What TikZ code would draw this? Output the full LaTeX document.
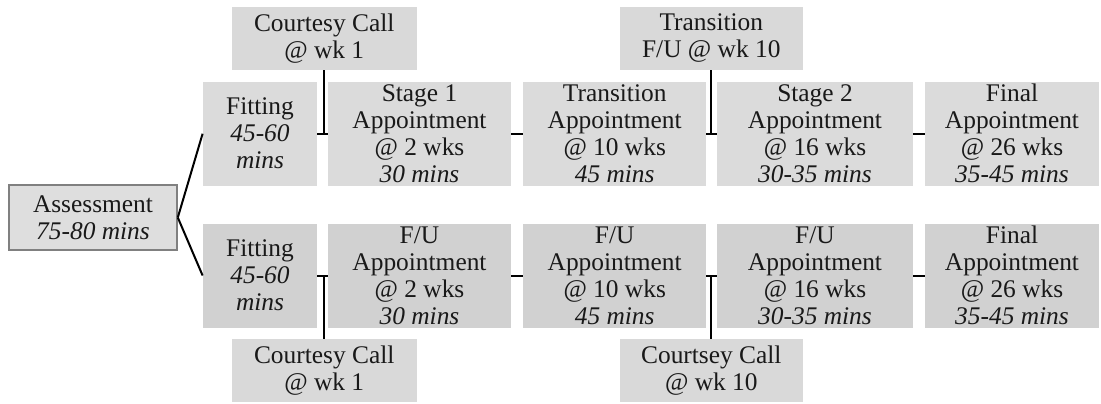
\documentclass[tikz,border=0pt]{standalone}
\usepackage{fontspec}
\setmainfont{Liberation Serif}
\usepackage{tikz}

\begin{document}
\begin{tikzpicture}[x=0.5pt,y=-0.5pt,
  box/.style={inner sep=0pt, align=center, text=black!90,
    font=\fontsize{12.7}{13.5}\selectfont},
  upper/.style={box, fill=black!14, minimum height=52pt},
  lower/.style={box, fill=black!18, minimum height=52pt},
  call/.style={box, fill=black!15, minimum height=31.6pt},
  link/.style={line width=1pt}]
\useasboundingbox (0,0) rectangle (1101,403);

\node[box, fill=black!13, draw=black!50, line width=0.8pt,
  minimum width=84pt, minimum height=32.5pt]
  (Assess) at (93,217.5) {Assessment\\\textit{75-80 mins}};

% top row
\node[upper, minimum width=57pt] (FitA) at (260,133.7)
  {Fitting\\\textit{45-60}\\\textit{mins}};
\node[upper, minimum width=91.5pt] (StageOne) at (419.5,133.7)
  {Stage 1\\Appointment\\@ 2 wks\\\textit{30 mins}};
\node[upper, minimum width=91.3pt] (TransAppt) at (614.7,133.7)
  {Transition\\Appointment\\@ 10 wks\\\textit{45 mins}};
\node[upper, minimum width=98pt] (StageTwo) at (815,133.7)
  {Stage 2\\Appointment\\@ 16 wks\\\textit{30-35 mins}};
\node[upper, minimum width=87pt] (FinalA) at (1012,133.7)
  {Final\\Appointment\\@ 26 wks\\\textit{35-45 mins}};
\node[call, minimum width=92.5pt] (CallA) at (324.2,38.4)
  {Courtesy Call\\@ wk 1};
\node[call, minimum width=91.3pt] (TransFU) at (711.3,38.4)
  {Transition\\F/U @ wk 10};

% bottom row
\node[lower, minimum width=57pt] (FitB) at (260,275.5)
  {Fitting\\\textit{45-60}\\\textit{mins}};
\node[lower, minimum width=91.5pt] (FUtwo) at (419.5,275.5)
  {F/U\\Appointment\\@ 2 wks\\\textit{30 mins}};
\node[lower, minimum width=91.3pt] (FUten) at (614.7,275.5)
  {F/U\\Appointment\\@ 10 wks\\\textit{45 mins}};
\node[lower, minimum width=98pt] (FUsixteen) at (815,275.5)
  {F/U\\Appointment\\@ 16 wks\\\textit{30-35 mins}};
\node[lower, minimum width=87pt] (FinalB) at (1012,275.5)
  {Final\\Appointment\\@ 26 wks\\\textit{35-45 mins}};
\node[call, minimum width=92.5pt] (CallB) at (324.2,370.5)
  {Courtesy Call\\@ wk 1};
\node[call, minimum width=91.3pt] (CallC) at (711.3,370.5)
  {Courtsey Call\\@ wk 10};

\draw[link]
  (Assess.east) -- (FitA.west);
\draw[link]
  (Assess.east) -- (FitB.west);

\draw[link] (FitA.east) -- (StageOne.west);
\draw[link] (StageOne.east) -- (TransAppt.west);
\draw[link] (TransAppt.east) -- (StageTwo.west);
\draw[link] (StageTwo.east) -- (FinalA.west);
\draw[link] (CallA.south) -- (CallA.south |- FitA.east);
\draw[link] (TransFU.south) -- (TransFU.south |- TransAppt.east);

\draw[link] (FitB.east) -- (FUtwo.west);
\draw[link] (FUtwo.east) -- (FUten.west);
\draw[link] (FUten.east) -- (FUsixteen.west);
\draw[link] (FUsixteen.east) -- (FinalB.west);
\draw[link] (CallB.north) -- (CallB.north |- FitB.east);
\draw[link] (CallC.north) -- (CallC.north |- FUten.east);

\end{tikzpicture}
\end{document}
